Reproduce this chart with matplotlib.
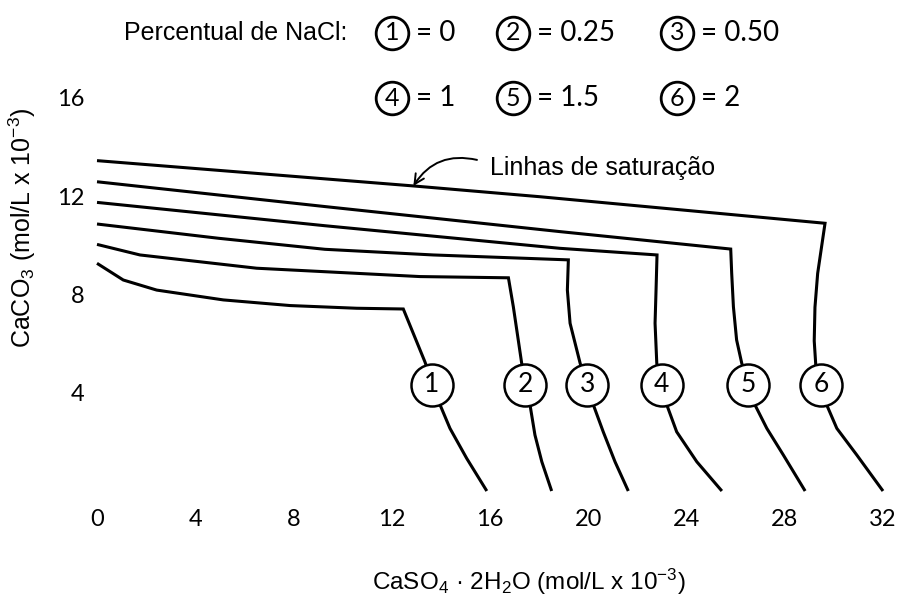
import matplotlib
matplotlib.use('Agg')
import matplotlib.pyplot as plt

plt.rcParams['font.family'] = ['Liberation Sans', 'DejaVu Sans']

# ---------------- data ----------------
x_ticks = [0, 4, 8, 12, 16, 20, 24, 28, 32]
y_ticks = [4, 8, 12, 16]

curve1_x = [0, 1.07, 2.43, 5.14, 7.86, 10.57, 12.47, 13.35, 13.97, 14.37, 15.05, 15.87]
curve1_y = [9.27, 8.59, 8.18, 7.78, 7.55, 7.44, 7.41, 5.26, 3.50, 2.55, 1.33, 0]

curve2_x = [0, 1.75, 6.50, 13.15, 16.75, 16.95, 17.15, 17.29, 17.63, 17.83, 18.11, 18.51]
curve2_y = [10.04, 9.61, 9.07, 8.73, 8.68, 7.50, 6.15, 5.20, 3.50, 2.28, 1.19, 0]

curve3_x = [0, 4.94, 9.28, 13.69, 19.19, 19.15, 19.26, 19.67, 20.21, 20.61, 21.09, 21.63]
curve3_y = [10.87, 10.29, 9.84, 9.61, 9.41, 8.18, 6.83, 5.20, 3.50, 2.41, 1.19, 0]

curve4_x = [0, 9.28, 18.85, 22.80, 22.76, 22.72, 22.79, 23.20, 23.60, 24.42, 25.44]
curve4_y = [11.75, 10.80, 9.88, 9.61, 8.18, 6.83, 5.20, 3.50, 2.41, 1.19, 0]

curve5_x = [0, 9.28, 18.85, 25.80, 25.84, 25.91, 26.04, 26.25, 26.79, 27.27, 27.94, 28.83]
curve5_y = [12.59, 11.58, 10.56, 9.85, 8.86, 7.50, 6.15, 5.20, 3.50, 2.55, 1.47, 0]

curve6_x = [0, 12.88, 18.04, 29.64, 29.34, 29.23, 29.20, 29.27, 29.71, 30.12, 30.93, 32.0]
curve6_y = [13.45, 12.42, 11.98, 10.90, 8.86, 7.48, 6.11, 5.02, 3.50, 2.55, 1.47, 0]

curve_labels = ['1', '2', '3', '4', '5', '6']
label_x = [13.63, 17.43, 19.96, 22.99, 26.52, 29.48]
label_y = [4.32, 4.32, 4.32, 4.32, 4.32, 4.32]

nacl_values = ['0', '0.25', '0.50', '1', '1.5', '2']

annot_text = 'Linhas de saturação'
annot_tip = (12.88, 12.42)
annot_tail = (15.47, 13.48)
annot_text_pos = (16.0, 13.15)

xlabel = r'CaSO$\mathregular{_4}$ · 2H$\mathregular{_2}$O (mol/L x 10$\mathregular{^{-3}}$)'
ylabel = r'CaCO$\mathregular{_3}$ (mol/L x 10$\mathregular{^{-3}}$)'
legend_title = 'Percentual de NaCl:'

# ---------------- figure ----------------
W, H = 899, 597
fig = plt.figure(figsize=(W / 100, H / 100), dpi=100)
ax = fig.add_axes([97 / W, (H - 491) / H, 786 / W, 393 / H])
ax.set_xlim(0, 32)
ax.set_ylim(0, 16)
for s in ax.spines.values():
    s.set_visible(False)
ax.set_xticks(x_ticks)
ax.set_yticks(y_ticks)
ax.tick_params(axis='both', length=0, labelsize=17)
ax.tick_params(axis='x', pad=13)
ax.tick_params(axis='y', pad=9)
for lbl in ax.get_xticklabels() + ax.get_yticklabels():
    lbl.set_family(['Lato', 'DejaVu Sans'])

curves = [(curve1_x, curve1_y), (curve2_x, curve2_y), (curve3_x, curve3_y),
          (curve4_x, curve4_y), (curve5_x, curve5_y), (curve6_x, curve6_y)]
for cx, cy in curves:
    ax.plot(cx, cy, color='black', lw=2.2, solid_joinstyle='miter',
            solid_capstyle='butt', clip_on=False, zorder=2)

ax.scatter(label_x, label_y, s=(42 * 0.72) ** 2, facecolor='white',
           edgecolor='black', linewidth=1.8, zorder=3, clip_on=False)
for lx, ly, t in zip(label_x, label_y, curve_labels):
    ax.text(lx, ly, t, ha='center', va='center', fontsize=19,
            family=['Lato', 'DejaVu Sans'], zorder=4)

# annotation
ax.annotate('', xy=annot_tip, xytext=annot_tail,
            arrowprops=dict(arrowstyle='->,head_length=0.7,head_width=0.35',
                            connectionstyle='arc3,rad=0.35', lw=1.4,
                            color='black', shrinkA=0, shrinkB=0))
ax.text(annot_text_pos[0], annot_text_pos[1], annot_text, ha='left',
        va='center', fontsize=18)

# axis labels
fig.text(529 / W, 1 - 582 / H, xlabel, ha='center', va='center', fontsize=17.5)
fig.text(22 / W, 1 - 228 / H, ylabel, ha='center', va='center',
         fontsize=18, rotation=90)

# legend
fig.text(124 / W, 1 - 33 / H, legend_title, ha='left', va='center', fontsize=18)
col_px = [392, 513, 677]
row_px = [33, 98]
for i, (num, val) in enumerate(zip(curve_labels, nacl_values)):
    cxp = col_px[i % 3]
    cyp = row_px[i // 3]
    ax.plot([cxp / W], [1 - cyp / H], 'o', ms=23.5, mfc='white', mec='black',
            mew=2.0, transform=fig.transFigure, clip_on=False)
    fig.text(cxp / W, 1 - cyp / H, num, ha='center', va='center', fontsize=18,
             family=['Lato', 'DejaVu Sans'])
    fig.text((cxp + 24) / W, 1 - cyp / H, '= ' + val, ha='left', va='center',
             fontsize=20, family=['Lato', 'DejaVu Sans'])

fig.savefig('out.png', dpi=100)
